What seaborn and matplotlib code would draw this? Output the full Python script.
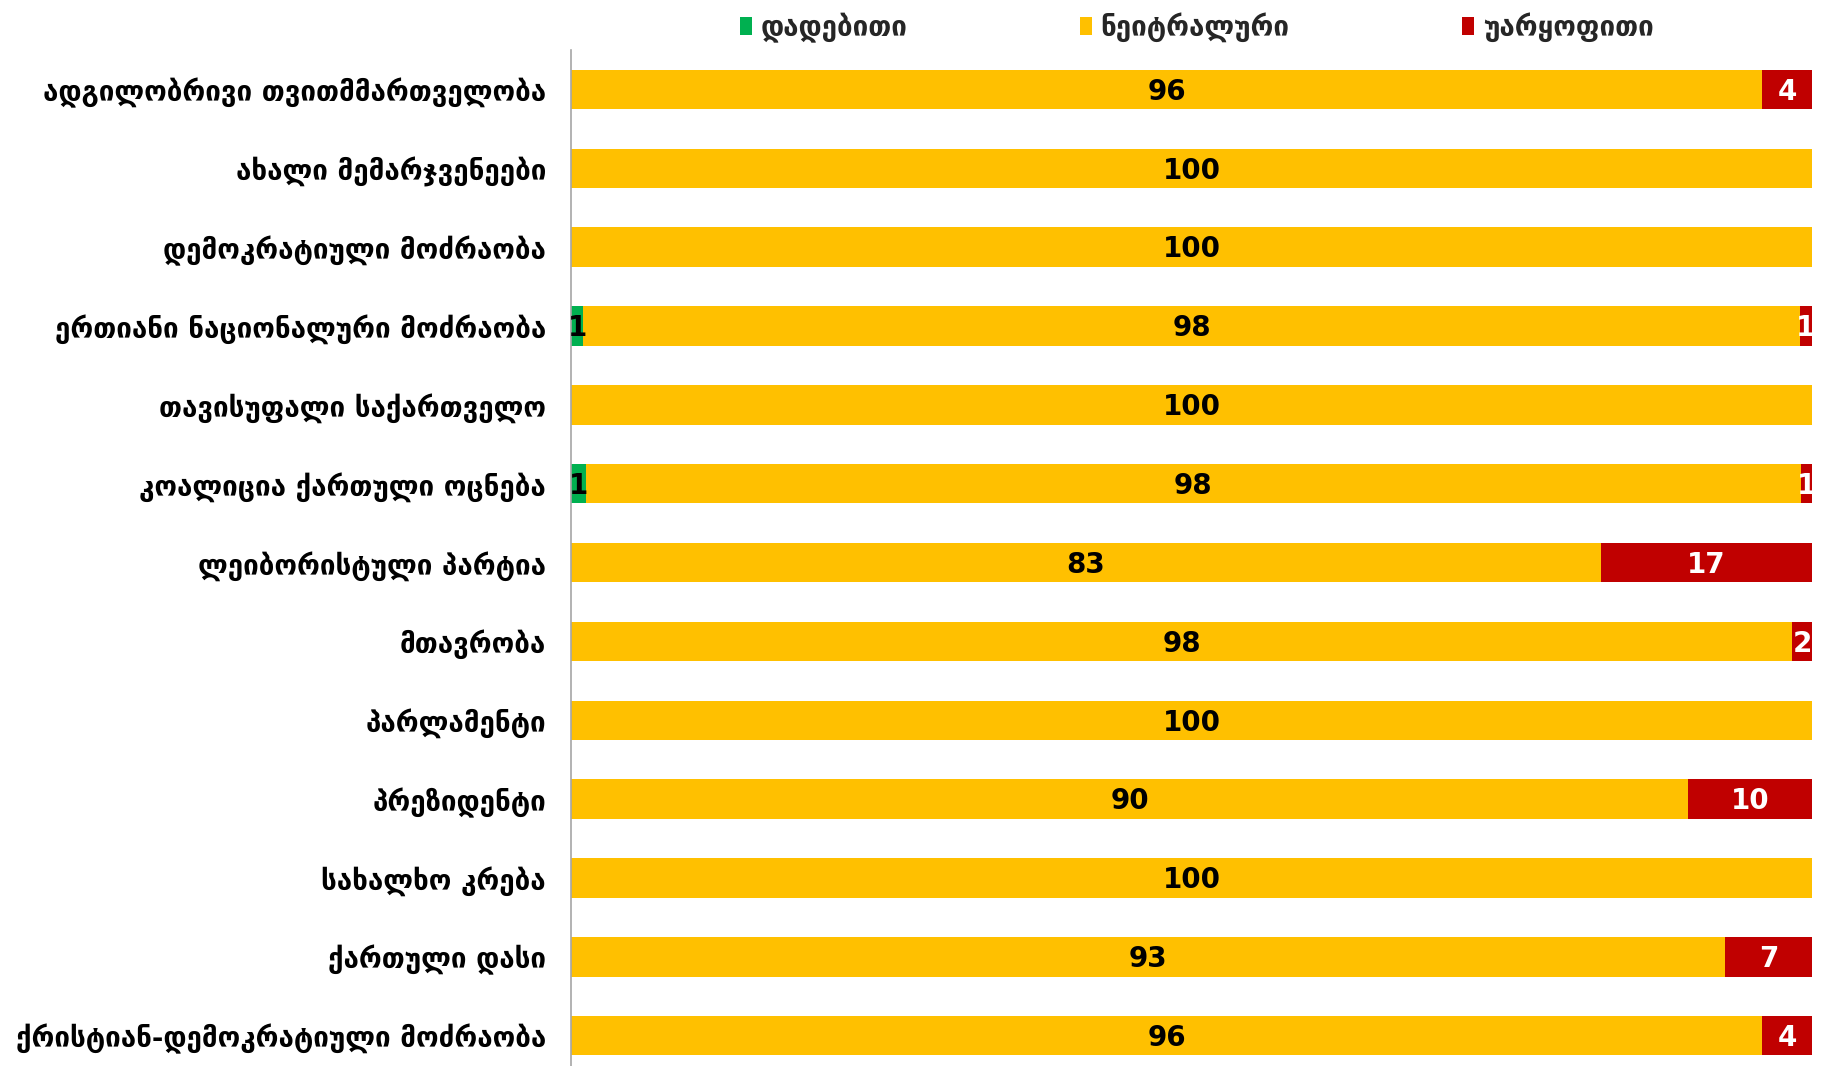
import matplotlib
matplotlib.use("Agg")
import matplotlib.pyplot as plt
from matplotlib.patches import Patch
import seaborn as sns
import pandas as pd

# data
categories = [
    "ადგილობრივი თვითმმართველობა",
    "ახალი მემარჯვენეები",
    "დემოკრატიული მოძრაობა",
    "ერთიანი ნაციონალური მოძრაობა",
    "თავისუფალი საქართველო",
    "კოალიცია ქართული ოცნება",
    "ლეიბორისტული პარტია",
    "მთავრობა",
    "პარლამენტი",
    "პრეზიდენტი",
    "სახალხო კრება",
    "ქართული დასი",
    "ქრისტიან-დემოკრატიული მოძრაობა",
]
positive = [0, 0, 0, 1.0, 0, 1.2, 0, 0, 0, 0, 0, 0, 0]
neutral = [96, 100, 100, 98.0, 100, 97.9, 83, 98.4, 100, 90, 100, 93, 96]
negative = [4, 0, 0, 1.0, 0, 0.9, 17, 1.6, 0, 10, 0, 7, 4]
series_names = ["დადებითი", "ნეიტრალური", "უარყოფითი"]

colors = ["#00B050", "#FFC000", "#C00000"]
text_colors = ["black", "black", "white"]

sns.set_theme(style="white")
plt.rcParams["font.family"] = ["DejaVu Sans"]

df = pd.DataFrame({"category": categories, "pos": positive,
                   "neu": neutral, "neg": negative})
df["c1"] = df["pos"]
df["c2"] = df["pos"] + df["neu"]
df["c3"] = df["c2"] + df["neg"]

fig = plt.figure(figsize=(18.27, 10.66), dpi=100)
ax = fig.add_axes([571 / 1827, 0.0, (1812 - 571) / 1827, 1 - 50 / 1066])

# stacked bars drawn as overlapping cumulative totals
for col, color in zip(["c3", "c2", "c1"], colors[::-1]):
    sns.barplot(data=df, x=col, y="category", orient="h", color=color,
                width=0.5, ax=ax, saturation=1, edgecolor="none")

# segment labels
starts = [[0] * len(df), list(df["c1"]), list(df["c2"])]
ends = [list(df["c1"]), list(df["c2"]), list(df["c3"])]
vals = [positive, neutral, negative]
for k in range(3):
    for i in range(len(df)):
        v = vals[k][i]
        if v <= 0:
            continue
        xc = (starts[k][i] + ends[k][i]) / 2
        ax.text(xc, i + 0.03, f"{v:.0f}", ha="center", va="center",
                fontsize=20, fontweight="bold", color=text_colors[k])

ax.set_xlim(0, 100)
ax.set_ylim(12.385, -0.5)
ax.set_xlabel("")
ax.set_ylabel("")
ax.set_xticks([])
ax.tick_params(axis="y", length=0, pad=18)
for lbl in ax.get_yticklabels():
    lbl.set_fontsize(20)
    lbl.set_fontweight("bold")
    lbl.set_color("black")
for s in ["top", "right", "bottom"]:
    ax.spines[s].set_visible(False)
ax.spines["left"].set_color("#A6A6A6")
ax.spines["left"].set_linewidth(1.2)

handles = [Patch(facecolor=c, edgecolor="none") for c in colors]
fig.legend(handles, series_names, loc="upper center",
           bbox_to_anchor=(0.655, 1.012), ncol=3, frameon=False,
           handlelength=0.45, handleheight=0.6, handletextpad=0.3,
           columnspacing=6.2, prop={"size": 20, "weight": "bold"})

fig.savefig("out.png", dpi=100)
